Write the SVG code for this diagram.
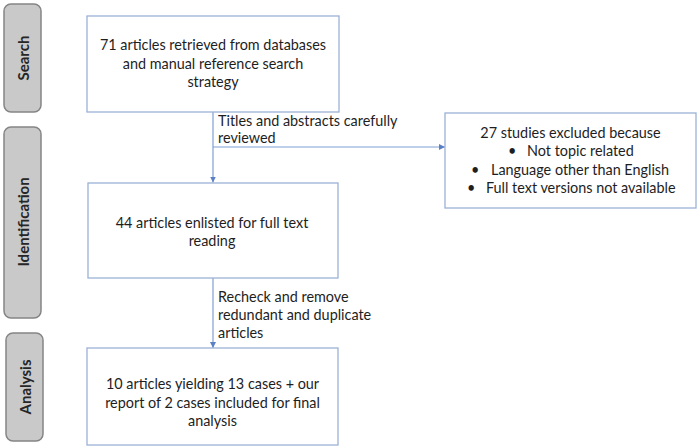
<svg xmlns="http://www.w3.org/2000/svg" width="699" height="448" viewBox="0 0 699 448">
<defs>
<style>
.stage{fill:#c9c9c9;stroke:#858585;stroke-width:1.5}
.stxt{font-family:Lato,"Liberation Sans",sans-serif;font-weight:bold;font-size:15px;fill:#262626;text-anchor:middle;dominant-baseline:central}
.box{fill:#ffffff;stroke:#9bb1d6;stroke-width:1.3}
.t{font-family:Lato,"Liberation Sans",sans-serif;font-size:14.4px;fill:#1e1e1e}
.c{text-anchor:middle}
.conn{stroke:#7f9fd3;stroke-width:1.2;fill:none}
</style>
<marker id="ah" markerUnits="userSpaceOnUse" markerWidth="7" markerHeight="6" refX="6" refY="3" orient="auto">
<path d="M0,0 L6,3 L0,6 z" fill="#5b7fc4"/>
</marker>
</defs>

<g id="stage-search">
<rect class="stage" x="4" y="4" width="37" height="108" rx="7"/>
<text class="stxt" transform="translate(22.5,58) rotate(-90)">Search</text>
</g>
<g id="stage-identification">
<rect class="stage" x="4" y="127" width="37" height="191" rx="7"/>
<text class="stxt" transform="translate(22.5,222) rotate(-90)">Identification</text>
</g>
<g id="stage-analysis">
<rect class="stage" x="6" y="333" width="37" height="108" rx="7"/>
<text class="stxt" transform="translate(24.5,387) rotate(-90)">Analysis</text>
</g>

<g id="connectors">
<line class="conn" x1="213" y1="112" x2="213" y2="182.5" marker-end="url(#ah)"/>
<line class="conn" x1="213" y1="147" x2="445" y2="147" marker-end="url(#ah)"/>
<line class="conn" x1="213" y1="278" x2="213" y2="348" marker-end="url(#ah)"/>
<text class="t" x="218" y="126">Titles and abstracts carefully</text>
<text class="t" x="218" y="143">reviewed</text>
<text class="t" x="218" y="302">Recheck and remove</text>
<text class="t" x="218" y="320">redundant and duplicate</text>
<text class="t" x="218" y="338">articles</text>
</g>

<g id="box-search">
<rect class="box" x="87" y="16" width="252" height="96"/>
<text class="t c" x="213" y="50">71 articles retrieved from databases</text>
<text class="t c" x="213" y="68.5">and manual reference search</text>
<text class="t c" x="213" y="87">strategy</text>
</g>

<g id="box-excluded">
<rect class="box" x="445" y="113" width="251" height="95"/>
<text class="t c" x="570.5" y="138">27 studies excluded because</text>
<text class="t" x="508" y="156">•</text>
<text class="t" x="527" y="156">Not topic related</text>
<text class="t" x="471" y="175">•</text>
<text class="t" x="491" y="175">Language other than English</text>
<text class="t" x="467" y="193">•</text>
<text class="t" x="486" y="193">Full text versions not available</text>
</g>

<g id="box-identification">
<rect class="box" x="88" y="183" width="250" height="95"/>
<text class="t c" x="212" y="228">44 articles enlisted for full text</text>
<text class="t c" x="212" y="246">reading</text>
</g>

<g id="box-analysis">
<rect class="box" x="87" y="348" width="251" height="97"/>
<text class="t c" x="212.5" y="389">10 articles yielding 13 cases + our</text>
<text class="t c" x="212.5" y="408">report of 2 cases included for final</text>
<text class="t c" x="212.5" y="426">analysis</text>
</g>
</svg>
